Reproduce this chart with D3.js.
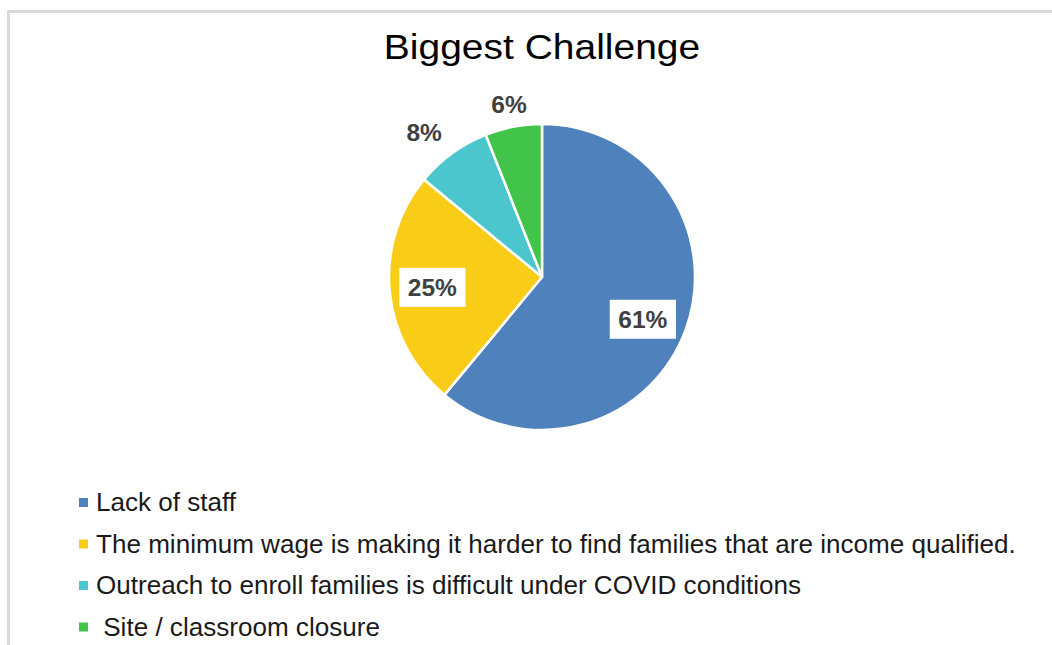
<!DOCTYPE html>
<html>
<head>
<meta charset="utf-8">
<script src="https://cdn.jsdelivr.net/npm/d3@7"></script>
<style>
  html, body { margin: 0; padding: 0; background: #fff; }
  svg { display: block; }
  text { font-family: "Liberation Sans", Arial, sans-serif; }
</style>
</head>
<body>
<svg id="chart" width="1052" height="645"></svg>
<script>
// Survey responses: biggest challenge (percent of respondents)
const categories = [
  "Lack of staff",
  "The minimum wage is making it harder to find families that are income qualified.",
  "Outreach to enroll families is difficult under COVID conditions",
  " Site / classroom closure"
];
const values = [61, 25, 8, 6];
const colors = ["#4f81bd", "#f9cd17", "#4bc6cc", "#42c44b"];
const title = "Biggest Challenge";

const W = 1052, H = 645;
const svg = d3.select("#chart");

// frame
svg.append("rect")
  .attr("x", 8.5).attr("y", 11.5)
  .attr("width", W + 20).attr("height", H + 20)
  .attr("fill", "#fff")
  .attr("stroke", "#d9d9d9")
  .attr("stroke-width", 3);

// title
svg.append("text")
  .attr("transform", "translate(542,59) scale(1.13,1)")
  .attr("text-anchor", "middle")
  .attr("font-size", 34.5)
  .attr("fill", "#000")
  .text(title);

// pie
const cx = 542, cy = 277, r = 153;
const pie = d3.pie().sort(null).value(d => d.value);
const arcs = pie(values.map((v, i) => ({ value: v, name: categories[i], color: colors[i] })));
const arc = d3.arc().innerRadius(0).outerRadius(r);

const g = svg.append("g").attr("transform", `translate(${cx},${cy})`);
g.selectAll("path.slice")
  .data(arcs)
  .join("path")
  .attr("class", "slice")
  .attr("d", arc)
  .attr("fill", d => d.data.color)
  .attr("stroke", "#fff")
  .attr("stroke-width", 2.5)
  .attr("stroke-linejoin", "round");

// data labels: inside with white box for large slices, outside for small ones
const labelRadius = [0.70, 0.72, 1.20, 1.15];
const labelShift = [[0, 6], [0, 0], [-10, 4], [0, 0]];
const fmt = v => v + "%";
arcs.forEach((d, i) => {
  const k = labelRadius[i] * r;
  const la = d3.arc().innerRadius(k).outerRadius(k);
  const [x, y] = la.centroid(d);
  const [sx, sy] = labelShift[i];
  const lg = g.append("g").attr("transform", `translate(${x + sx},${y + sy})`);
  const t = lg.append("text")
    .attr("text-anchor", "middle")
    .attr("dy", "0.35em")
    .attr("font-size", 24.5)
    .attr("font-weight", "bold")
    .attr("fill", "#404040")
    .text(fmt(d.data.value));
  if (labelRadius[i] < 1) {
    const bb = t.node().getBBox();
    lg.insert("rect", "text")
      .attr("x", bb.x - 8.5).attr("y", -19.5)
      .attr("width", bb.width + 17).attr("height", 39)
      .attr("fill", "#fff");
  }
});

// legend
const legY = d3.scalePoint().domain(d3.range(categories.length)).range([502.5, 627]);
const leg = svg.append("g");
categories.forEach((c, i) => {
  const y = legY(i);
  leg.append("rect")
    .attr("x", 79).attr("y", y - 4.5)
    .attr("width", 9).attr("height", 9)
    .attr("fill", colors[i]);
  leg.append("text")
    .attr("transform", `translate(96,${y}) scale(1.043,1)`)
    .attr("dy", "0.35em")
    .attr("font-size", 25)
    .attr("fill", "#1a1a1a")
    .attr("xml:space", "preserve")
    .style("white-space", "pre")
    .text(c);
});
</script>
</body>
</html>
